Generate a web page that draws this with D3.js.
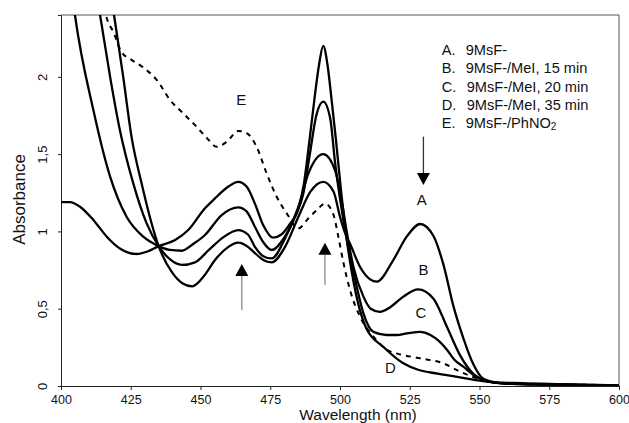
<!DOCTYPE html>
<html><head><meta charset="utf-8">
<script src="https://cdn.jsdelivr.net/npm/d3@7"></script>
<style>body{margin:0;background:#fff}svg{display:block}text{font-family:"Liberation Sans",Arial,sans-serif;fill:#111}</style>
</head><body><svg id="c" width="629" height="423"></svg>
<script>
// ---- data (wavelength nm / absorbance) ----
const wlA  = [414,419,422.3,425.3,428.9,432.5,435,440,443.5,447,451.6,455.2,460,463.5,467,469.5,472.5,475.5,480.3,485.1,489.4,494,497.7,500,501.8,503.6,507.2,510.8,513.2,519.1,523.9,528.7,533.5,537,540.6,544.2,547.8,550.8,554,560,570,580,590,600];
const absA = [3.0,2.4,2.0,1.61,1.31,1.05,0.905,0.73,0.665,0.645,0.72,0.815,0.9,0.927,0.9,0.86,0.815,0.80,0.9,1.095,1.257,1.321,1.257,1.095,0.99,0.92,0.77,0.69,0.675,0.815,0.966,1.048,0.97,0.79,0.52,0.31,0.14,0.055,0.03,0.015,0.01,0.008,0.005,0.003];

const wlB  = [409,414,417.6,421.1,425.9,430.7,435,439,443.3,448,453,458,463.5,467,469.5,472.5,475.5,480.3,485.1,488.7,494,498.2,500.6,502.4,504.8,508.4,511,514.3,518,522.7,528,533.5,538.4,543,548,551,555,565,580,600];
const absB = [3.0,2.4,2.0,1.656,1.311,1.052,0.905,0.82,0.783,0.8,0.88,0.96,1.009,0.98,0.9,0.84,0.825,0.955,1.16,1.376,1.50,1.397,1.2,1.0,0.772,0.578,0.5,0.48,0.51,0.578,0.625,0.565,0.38,0.2,0.075,0.04,0.022,0.012,0.007,0.003];

const wlC  = [400,405,411.6,417.6,423.5,429.5,435,439,443.3,447.5,451.6,457.6,463.5,466.5,469.5,472.5,475.5,480,484,486.8,489.2,491.5,494,496.5,498.2,499.9,502.4,506,508.4,512,516.7,520.3,524,528.7,532.4,535.5,538.4,541,544.2,548,551.4,556,570,585,600];
const absC = [3.2,2.4,1.785,1.354,1.095,0.966,0.905,0.88,0.875,0.92,0.977,1.106,1.156,1.13,1.03,0.93,0.88,0.96,1.1,1.24,1.5,1.75,1.839,1.73,1.45,1.224,0.95,0.642,0.47,0.35,0.33,0.33,0.34,0.35,0.33,0.29,0.233,0.17,0.125,0.07,0.039,0.02,0.01,0.006,0.003];

const wlD  = [400,403.2,406.8,411.6,416.4,421.1,427,431,435,440.9,445.6,451.6,455,460,463.5,466.5,469.5,472.5,476,479,482.1,485,487,489,491,492.5,494,495.5,497,498.5,500.6,502.4,505,509.5,515.5,522.7,528,535,540,545,550,555,565,580,600];
const absD = [1.19,1.19,1.16,1.074,0.966,0.89,0.854,0.87,0.905,0.944,1.009,1.15,1.21,1.29,1.32,1.29,1.18,1.04,0.96,0.98,1.05,1.14,1.3,1.58,1.88,2.08,2.2,2.08,1.85,1.6,1.224,0.95,0.66,0.37,0.254,0.147,0.105,0.08,0.065,0.05,0.035,0.025,0.018,0.012,0.004];

const wlE  = [412,416.4,418.8,421.7,425.3,429.5,434.3,439.1,443.8,448.6,452.5,455.8,459.4,463.5,466.6,470.1,473.7,477.3,480.9,485.1,488.7,491.7,494.6,497.7,499.4,501.2,503.6,507.2,512,516.7,520.3,528.7,537,543,549,555,565,580,600];
const absE = [2.9,2.38,2.29,2.16,2.11,2.06,1.98,1.85,1.764,1.677,1.6,1.548,1.58,1.65,1.635,1.548,1.376,1.224,1.117,1.02,1.085,1.138,1.18,1.106,0.966,0.80,0.62,0.448,0.319,0.235,0.211,0.179,0.147,0.093,0.05,0.025,0.015,0.01,0.005];

const legendKeys  = ["A.","B.","C.","D.","E."];
const legendTexts = ["9MsF-","9MsF-/MeI, 15 min","9MsF-/MeI, 20 min","9MsF-/MeI, 35 min","9MsF-/PhNO"];
const xTicks = [400,425,450,475,500,525,550,575,600];
const yTicks = [0,0.5,1,1.5,2];
const yTickLabels = ["0","0,5","1","1,5","2"];
const xTitle = "Wavelength (nm)";
const yTitle = "Absorbance";
// arrows: [wavelength, from absorbance, to absorbance]
const arrows = [[464.8,0.49,0.789],[494.6,0.653,0.927],[529.9,1.613,1.30]];
// curve labels: [text, wavelength, absorbance of baseline]
const curveLabels = [["A",529.3,1.17],["B",529.9,0.717],["C",529.0,0.44],["D",518.1,0.084],["E",464.6,1.817]];

// ---- chart ----
const svg = d3.select("#c");
const x = d3.scaleLinear().domain([400,600]).range([61,619]);
const y = d3.scaleLinear().domain([0,2.4]).range([386,15]);

svg.append("defs").append("clipPath").attr("id","clip")
  .append("rect").attr("x",61).attr("y",15).attr("width",558).attr("height",371);

// frame
svg.append("line").attr("x1",61).attr("x2",619).attr("y1",15).attr("y2",15).attr("stroke","#555").attr("stroke-width",1);
svg.append("line").attr("x1",619).attr("x2",619).attr("y1",15).attr("y2",386).attr("stroke","#555").attr("stroke-width",1);

const xAxis = svg.append("g").attr("transform","translate(0,386)")
  .call(d3.axisBottom(x).tickValues(xTicks).tickSize(4).tickPadding(10).tickFormat(d3.format("d")));
xAxis.select(".domain").attr("stroke","#222");
xAxis.selectAll(".tick line").attr("stroke","#222");
xAxis.selectAll("text").attr("font-size",12.5).attr("font-family","Liberation Sans, Arial, sans-serif").attr("fill","#111")
  .attr("y",null).attr("dy",null).attr("transform","translate(0,18)");

const yAxis = svg.append("g").attr("transform","translate(61,0)")
  .call(d3.axisLeft(y).tickValues(yTicks).tickSize(3).tickFormat((d,i)=>yTickLabels[i]));
yAxis.select(".domain").attr("stroke","#222");
yAxis.selectAll(".tick line").attr("stroke","#222");
yAxis.selectAll("text").attr("font-size",13).attr("font-family","Liberation Sans, Arial, sans-serif").attr("fill","#111")
  .attr("x",null).attr("dy",null).attr("text-anchor","middle")
  .attr("transform","translate(-14.3,0) rotate(-90)");

svg.append("text").attr("x",358).attr("y",420).attr("text-anchor","middle").attr("font-size",15.5).text(xTitle);
svg.append("text").attr("transform","translate(25,199.5) rotate(-90)").attr("text-anchor","middle").attr("font-size",17).text(yTitle);

// curves
const line = d3.line().x(d=>x(d[0])).y(d=>y(d[1])).curve(d3.curveMonotoneX);
const sets = [[wlA,absA],[wlB,absB],[wlC,absC],[wlD,absD],[wlE,absE]];
const g = svg.append("g").attr("clip-path","url(#clip)");
sets.forEach((s,i)=>{
  const pts = s[0].map((w,j)=>[w,s[1][j]]);
  g.append("path").datum(pts).attr("d",line).attr("fill","none")
    .attr("stroke","#000").attr("stroke-width", i===4?2:2.3)
    .attr("stroke-dasharray", i===4?"5,5":null)
    .attr("stroke-linejoin","round");
});

// arrows
arrows.forEach((a,i)=>{
  const ax = x(a[0]), y0 = y(a[1]), y1 = y(a[2]);
  const dir = y1 < y0 ? -1 : 1;
  const baseY = y1 - dir*12;
  svg.append("line").attr("x1",ax).attr("x2",ax).attr("y1",y0).attr("y2",baseY)
    .attr("stroke", i<2 ? "#8a8a8a" : "#333").attr("stroke-width",1.3);
  svg.append("path").attr("d",`M${ax-6.5},${baseY}L${ax+6.5},${baseY}L${ax},${y1}Z`).attr("fill","#000");
});

// curve labels
curveLabels.forEach(l=>{
  svg.append("text").attr("x",x(l[1])).attr("y",y(l[2])).attr("text-anchor","middle").attr("font-size",15).text(l[0]);
});

// legend
legendKeys.forEach((k,i)=>{
  const t = svg.append("text").attr("y",55+i*18.3).attr("font-size",14.6);
  t.append("tspan").attr("x",441.7).text(k);
  t.append("tspan").attr("x", i===2||i===3 ? 466.7 : 465.7).text(legendTexts[i]);
  if(i===4) t.append("tspan").attr("font-size",10).attr("dy",2).text("2");
});
</script></body></html>
